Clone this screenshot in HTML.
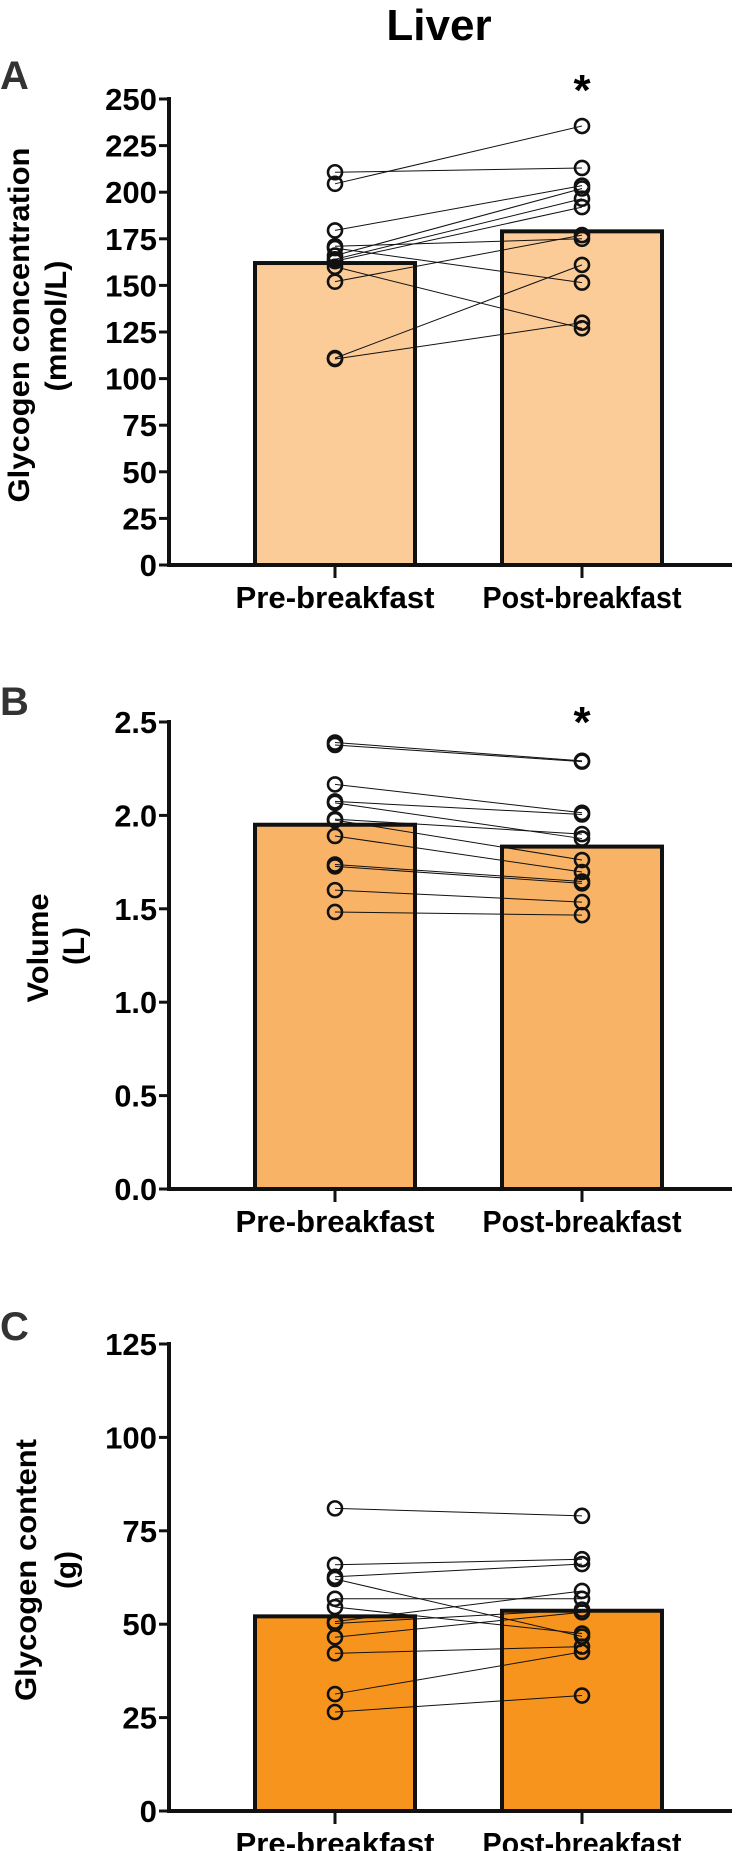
<!DOCTYPE html>
<html><head><meta charset="utf-8"><style>
html,body{margin:0;padding:0;background:#fff;}
svg{display:block;font-family:"Liberation Sans",Arial,sans-serif;font-weight:bold;}
</style></head><body>
<svg id="fig" width="748" height="1851" viewBox="0 0 748 1851">
<text x="439" y="40" font-size="44" text-anchor="middle">Liver</text>
</svg>
<script>
const categories = ["Pre-breakfast","Post-breakfast"];
const aTicks = [0,25,50,75,100,125,150,175,200,225,250];
const aBars = [162,179];
const aPre = [204.5,210.7,179.5,166,164,163,171,170,160,152,111,110.5];
const aPost = [235.5,213,203.5,202,196.5,192,175,151.5,127,177,161,130];
const bTicks = ["0.0","0.5","1.0","1.5","2.0","2.5"];
const bBars = [1.95,1.833];
const bPre = [2.39,2.377,2.166,2.075,2.067,1.98,1.975,1.89,1.737,1.727,1.60,1.483];
const bPost = [2.292,2.288,2.014,2.005,1.876,1.90,1.761,1.697,1.646,1.636,1.536,1.466];
const cTicks = [0,25,50,75,100,125];
const cBars = [52.1,53.6];
const cPre = [81,65.9,62.7,62.1,56.8,54.6,50.7,50.2,46.5,42.2,31.3,26.5];
const cPost = [79,67.4,66.1,46.7,56.8,47.5,58.9,53.9,53.2,44,42.6,30.9];

const NS="http://www.w3.org/2000/svg";
const svg=document.getElementById('fig');
function mk(tag,attrs,parent){const e=document.createElementNS(NS,tag);for(const k in attrs)e.setAttribute(k,attrs[k]);(parent||svg).appendChild(e);return e;}

function panel(opt){
  const g=mk('g',{});
  
  
  const x0=169, xEnd=732, y0=opt.y0, yTop=opt.yTop, max=opt.max;
  const ys=v=>y0-(v/max)*(y0-yTop);
  const cx=[335,582];
  const L=mk('text',{x:0,y:opt.letterY,'font-size':40,fill:'#333'},g);L.textContent=opt.letter;
  
  
  opt.bars.forEach((v,i)=>{
    const r=mk('rect',{x:cx[i]-80,y:ys(v),width:160,height:y0-ys(v),fill:opt.color,stroke:'#111','stroke-width':4},g);
    
    
  });
  opt.pre.forEach((v,i)=>{
    const l=mk('line',{x1:cx[0],y1:ys(v),x2:cx[1],y2:ys(opt.post[i]),stroke:'#111','stroke-width':1},g);
    
    
  });
  [opt.pre,opt.post].forEach((arr,k)=>arr.forEach(v=>{
    const c=mk('circle',{cx:cx[k],cy:ys(v),r:7,fill:'none',stroke:'#111','stroke-width':2.6},g);
    
    
  }));
  const ya=mk('line',{x1:x0,y1:yTop-2,x2:x0,y2:y0+2,stroke:'#111','stroke-width':4},g);
  
  
  const xa=mk('line',{x1:x0-2,y1:y0,x2:xEnd,y2:y0,stroke:'#111','stroke-width':4},g);
  
  
  opt.ticks.forEach(t=>{
    const y=ys(parseFloat(t));
    mk('line',{x1:x0-10,y1:y,x2:x0,y2:y,stroke:'#111','stroke-width':3},g);
    const s=String(t);
    const tx=mk('text',{x:157,y:y+11,'font-size':31,'text-anchor':'end',textLength:(s.replace('.','').length*17.3+(s.includes('.')?8:0)),lengthAdjust:'spacingAndGlyphs'},g);
    tx.textContent=s;
    
    
  });
  categories.forEach((c,i)=>{
    mk('line',{x1:cx[i],y1:y0,x2:cx[i],y2:y0+13,stroke:'#111','stroke-width':3},g);
    const tx=mk('text',{x:cx[i],y:y0+43,'font-size':31,'text-anchor':'middle',textLength:199,lengthAdjust:'spacingAndGlyphs'},g);
    tx.textContent=c;
    
    
  });
  opt.ylab.forEach((s,i)=>{
    const x=opt.ylabX[i], y=opt.ylabY[i];
    const tx=mk('text',{x:x,y:y,'font-size':30,'text-anchor':'middle',transform:`rotate(-90 ${x} ${y})`,textLength:opt.ylabLen[i],lengthAdjust:'spacingAndGlyphs'},g);
    tx.textContent=s;
    
    
  });
  if(opt.star){
    const st=mk('text',{x:cx[1],y:opt.starY,'font-size':44,'text-anchor':'middle'},g);
    st.textContent='*';
    
    
  }
}
panel({letter:'A',letterY:89,y0:565,yTop:99,max:250,ticks:aTicks.map(String),bars:aBars,pre:aPre,post:aPost,color:'#FBCB98',
  ylab:['Glycogen concentration','(mmol/L)'],ylabX:[29,66],ylabY:[325,326],ylabLen:[355,131],star:true,starY:105});
panel({letter:'B',letterY:715,y0:1189,yTop:722,max:2.5,ticks:bTicks,bars:bBars,pre:bPre,post:bPost,color:'#F9B366',
  ylab:['Volume','(L)'],ylabX:[48,84],ylabY:[948,946],ylabLen:[109,38],star:true,starY:737});
panel({letter:'C',letterY:1340,y0:1811,yTop:1344,max:125,ticks:cTicks.map(String),bars:cBars,pre:cPre,post:cPost,color:'#F7941E',
  ylab:['Glycogen content','(g)'],ylabX:[36,76],ylabY:[1570,1570],ylabLen:[262,38],star:false});
</script>
</body></html>
